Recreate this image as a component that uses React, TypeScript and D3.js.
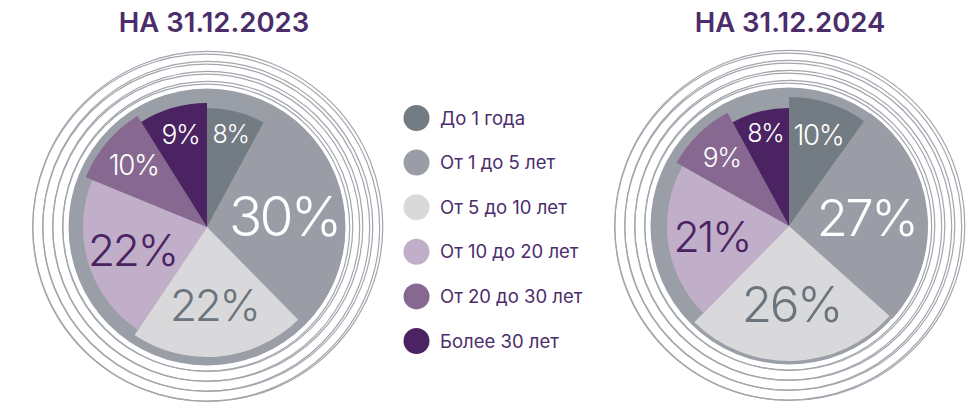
import React from "react";
import * as d3 from "d3";

const categories = [
  "До 1 года",
  "От 1 до 5 лет",
  "От 5 до 10 лет",
  "От 10 до 20 лет",
  "От 20 до 30 лет",
  "Более 30 лет",
];
const years = ["НА 31.12.2023", "НА 31.12.2024"];
const values2023 = [8, 30, 22, 22, 10, 9];
const values2024 = [10, 27, 26, 21, 9, 8];

// styling
const colors = ["#737b83", "#9a9da5", "#d9d9dc", "#c1afca", "#876890", "#4b2262"];
const labelColors = ["#ffffff", "#ffffff", "#6b747c", "#4b2262", "#ffffff", "#ffffff"];
const outerR2023 = [119, 138, 130, 124, 131, 124];
const outerR2024 = [129, 139, 135, 122, 129, 118];
const TEXT = "#4b2d6b";
const FONT = "Inter, 'Noto Sans', sans-serif";

const fontSize = d3.scaleLinear().domain([8, 30]).range([25, 55]);

const Pie = ({ cx, cy, title, titleX, values, radii }) => {
  const pie = d3.pie<number>().sort(null).value((d) => d);
  const arcs = pie(values);
  const arc = d3.arc();
  const rings = [145, 155, 165, 175];
  return (
    <g>
      <text
        x={titleX}
        y={32}
        textAnchor="middle"
        fontFamily={FONT}
        fontWeight={600}
        fontSize={27.5}
        fill={TEXT}
      >
        {title}
      </text>
      {rings.map((r, i) => (
        <g key={i} fill="none" stroke="#a3a6ad" strokeWidth={1.2}>
          <circle cx={cx + 0.8} cy={cy - 0.6} r={r} />
          <circle cx={cx - 0.8} cy={cy + 0.6} r={r - 1.5} />
        </g>
      ))}
      <circle cx={cx} cy={cy} r={138.5} fill="#9a9ea6" />
      <g transform={`translate(${cx},${cy})`}>
        {arcs.map((a, i) => (
          <path
            key={i}
            d={arc({ innerRadius: 0, outerRadius: radii[i], startAngle: a.startAngle, endAngle: a.endAngle, padAngle: 0 }) || ""}
            fill={colors[i]}
          />
        ))}
        {arcs.map((a, i) => {
          const mid = (a.startAngle + a.endAngle) / 2;
          const lr = values[i] < 15 ? 96 : 78;
          const x = Math.sin(mid) * lr;
          const y = -Math.cos(mid) * lr;
          return (
            <text
              key={i}
              x={x}
              y={y}
              dy="0.36em"
              textAnchor="middle"
              fontFamily={FONT}
              fontWeight={300}
              fontSize={fontSize(values[i])}
              letterSpacing="-0.05em"
              fill={labelColors[i]}
            >
              {values[i]}%
            </text>
          );
        })}
      </g>
    </g>
  );
};

export default function App() {
  const legendY = d3.scaleLinear().domain([0, categories.length - 1]).range([118, 341]);
  return (
    <svg
      width={973}
      height={410}
      style={{ position: "absolute", left: 0, top: 0, background: "#fff" }}
    >
      <Pie cx={207} cy={227} title={years[0]} titleX={214} values={values2023} radii={outerR2023} />
      <Pie cx={789} cy={226} title={years[1]} titleX={790} values={values2024} radii={outerR2024} />
      {categories.map((c, i) => (
        <g key={c} transform={`translate(0,${legendY(i)})`}>
          <circle cx={416.5} cy={0} r={13} fill={colors[i]} />
          <text x={440} y={0} dy="0.36em" fontFamily={FONT} fontSize={18.5} fill={TEXT}>
            {c}
          </text>
        </g>
      ))}
    </svg>
  );
}
